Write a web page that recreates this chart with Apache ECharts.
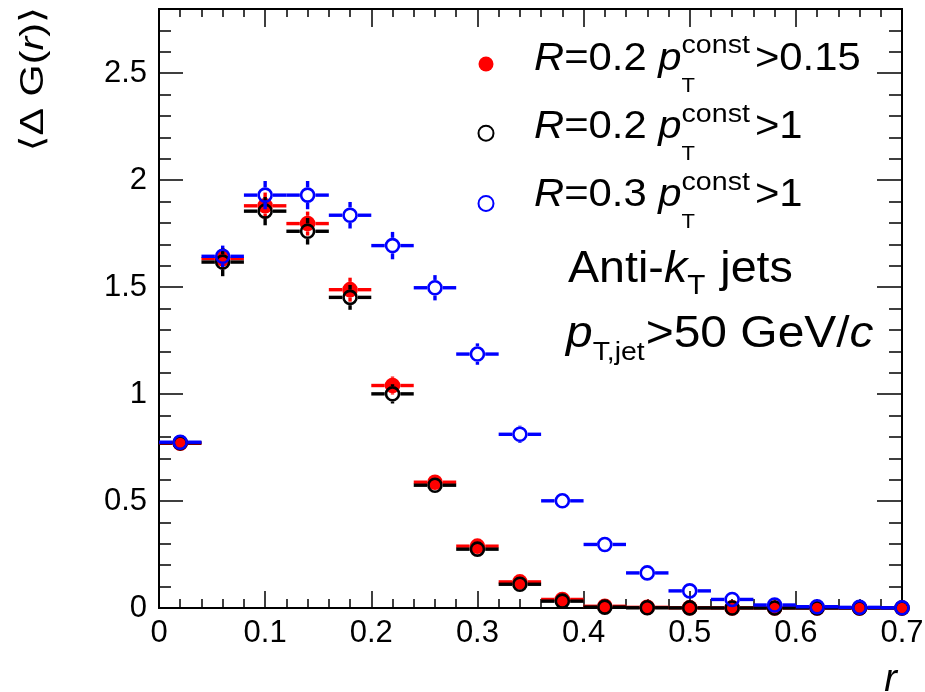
<!DOCTYPE html>
<html><head><meta charset="utf-8">
<script src="https://cdn.jsdelivr.net/npm/echarts@6/dist/echarts.min.js"></script>
<style>html,body{margin:0;padding:0;background:#fff}#main{width:925px;height:692px}</style>
</head><body><div id="main"></div>
<script>
// ---------------- data ----------------
const rCenters = [0.02,0.06,0.10,0.14,0.18,0.22,0.26,0.30,0.34,0.38,0.42,0.46,0.50,0.54,0.58,0.62,0.66,0.70];
const binHalfWidth = 0.02;
// R=0.2, pT const > 0.15 (red, filled)
const gR02pt015   = [0.770,1.633,1.880,1.797,1.488,1.040,0.588,0.289,0.122,0.040,0.008,0.003,0.001,0.0005,0.0003,0.0002,0.0001,0.0001];
const errR02pt015 = [0.030,0.050,0.062,0.056,0.056,0.042,0.030,0.020,0.012,0.006,0.003,0.002,0.001,0.001,0.001,0.001,0.001,0.001];
// R=0.2, pT const > 1 (black, open)
const gR02pt1     = [0.772,1.617,1.855,1.761,1.452,1.001,0.574,0.275,0.111,0.032,0.004,0.001,0.0005,0.0002,0.0001,0.0001,0.0001,0.0001];
const errR02pt1   = [0.035,0.066,0.066,0.062,0.058,0.045,0.032,0.022,0.014,0.008,0.004,0.002,0.001,0.001,0.001,0.001,0.001,0.001];
// R=0.3, pT const > 1 (blue, open)
const gR03pt1     = [0.775,1.644,1.930,1.930,1.836,1.694,1.497,1.187,0.812,0.501,0.297,0.164,0.080,0.040,0.014,0.006,0.003,0.001];
const errR03pt1   = [0.030,0.050,0.066,0.066,0.062,0.064,0.059,0.050,0.040,0.030,0.020,0.012,0.008,0.005,0.003,0.002,0.001,0.001];

const seriesNames = ['R=0.2 pT,const>0.15', 'R=0.2 pT,const>1', 'R=0.3 pT,const>1'];
const legendR   = ['0.2', '0.2', '0.3'];
const legendCut = ['0.15', '1', '1'];
const xTickLabels = ['0','0.1','0.2','0.3','0.4','0.5','0.6','0.7'];
const yTickLabels = ['0','0.5','1','1.5','2','2.5'];
const X_MIN = 0, X_MAX = 0.7, X_STEP = 0.1;
const Y_MIN = 0, Y_MAX = 2.8, Y_STEP = 0.5, Y_MINOR = 0.1;

// ---------------- style ----------------
const FONT = '"Liberation Sans", "DejaVu Sans", Arial, sans-serif';
const RED = '#ff0000', BLACK = '#000000', BLUE = '#0000ff';
const markerR = 7.8;

const chart = echarts.init(document.getElementById('main'), null, {renderer: 'canvas'});

function makeRender(color, filled) {
  return function (params, api) {
    const x = api.value(0), y = api.value(1), e = api.value(2);
    const c = api.coord([x, y]);
    const left = api.coord([Math.max(x - binHalfWidth, X_MIN), y])[0];
    const right = api.coord([Math.min(x + binHalfWidth, X_MAX), y])[0];
    const top = api.coord([x, Math.min(y + e, Y_MAX)])[1];
    const bot = api.coord([x, Math.max(y - e, Y_MIN)])[1];
    const ls = {stroke: color, lineWidth: 3.4, lineCap: 'butt'};
    const ch = [];
    const seg = (x1, y1, x2, y2) => ch.push({type: 'line', shape: {x1, y1, x2, y2}, style: ls, silent: true});
    if (c[0] - markerR > left) seg(left, c[1], c[0] - markerR, c[1]);
    if (right > c[0] + markerR) seg(c[0] + markerR, c[1], right, c[1]);
    if (c[1] - markerR > top) seg(c[0], top, c[0], c[1] - markerR);
    if (bot > c[1] + markerR) seg(c[0], c[1] + markerR, c[0], bot);
    if (filled) {
      ch.push({type: 'circle', shape: {cx: c[0], cy: c[1], r: markerR}, style: {fill: color}, silent: true});
    } else {
      ch.push({type: 'circle', shape: {cx: c[0], cy: c[1], r: markerR - 1.3}, style: {fill: 'none', stroke: color, lineWidth: 2.6}, silent: true});
    }
    return {type: 'group', children: ch};
  };
}
function rows(vals, errs) { return rCenters.map((r, i) => [r, vals[i], errs[i]]); }

// ---------------- text helpers ----------------
const mctx = document.createElement('canvas').getContext('2d');
function fontStr(size, italic) { return (italic ? 'italic ' : '') + size + 'px ' + FONT; }
function measure(t, size, italic) { mctx.font = fontStr(size, italic); return mctx.measureText(t).width; }
function txt(t, x, baseline, size, italic, sx) {
  return {type: 'text', x: x, y: baseline - 0.3465 * size, scaleX: sx, silent: true, z: 10,
    style: {text: t, font: fontStr(size, italic), fill: '#000', align: 'left', textAlign: 'left',
            verticalAlign: 'middle', textVerticalAlign: 'middle'}};
}
function run(x0, baseline, sx, parts) {
  let x = x0; const out = [];
  parts.forEach(p => {
    if (p.stack) {
      let w = 0;
      p.stack.forEach(s => {
        out.push(txt(s.t, x, baseline + (s.dy || 0), s.size, s.italic, sx));
        w = Math.max(w, measure(s.t, s.size, s.italic) * sx);
      });
      x += w + (p.gap || 0);
    } else {
      out.push(txt(p.t, x, baseline + (p.dy || 0), p.size, p.italic, sx));
      x += measure(p.t, p.size, p.italic) * sx + (p.gap || 0);
    }
  });
  return out;
}

const graphics = [];
// legend labels
const legBase0 = 72.3, legGap = 68.2;
for (let i = 0; i < 3; i++) {
  graphics.push(...run(534, legBase0 + i * legGap, 1.1, [
    {t: 'R', size: 38, italic: true},
    {t: '=' + legendR[i] + ' ', size: 38},
    {t: 'p', size: 38, italic: true},
    {stack: [{t: 'const', size: 26, dy: -17}, {t: 'T', size: 20, dy: 21}], gap: 5},
    {t: '>' + legendCut[i], size: 38}
  ]));
}
// jet definition text
graphics.push(...run(568, 285, 1.06, [
  {t: 'Anti-', size: 44},
  {t: 'k', size: 44, italic: true},
  {stack: [{t: 'T', size: 28, dy: 11}], gap: 2},
  {t: ' jets', size: 44}
]));
graphics.push(...run(566, 350, 1.09, [
  {t: 'p', size: 44, italic: true},
  {stack: [{t: 'T,jet', size: 26, dy: 12}], gap: 1},
  {t: '>50 GeV/', size: 44},
  {t: 'c', size: 44, italic: true}
]));
// y-axis title (rotated)
graphics.push({type: 'text', x: 34, y: 7, rotation: Math.PI / 2, scaleX: 1.25, silent: true,
  style: {text: '{n|⟨Δ G(}{i|r}{n|)⟩}', fill: '#000', font: fontStr(33, false),
    rich: {n: {font: fontStr(33, false), fill: '#000'}, i: {font: fontStr(33, true), fill: '#000'}},
    align: 'right', textAlign: 'right', verticalAlign: 'middle', textVerticalAlign: 'middle'}});
// x-axis title
graphics.push({type: 'text', x: 897, y: 694 - 0.3465 * 38, silent: true,
  style: {text: 'r', font: fontStr(38, true), fill: '#000', align: 'right', textAlign: 'right',
    verticalAlign: 'middle', textVerticalAlign: 'middle'}});

// ---------------- axes ----------------
const axisLineStyle = {color: '#000', width: 2};
const tickStyle = {color: '#000', width: 1.5};
const labelStyle = {fontSize: 31, fontFamily: FONT, color: '#000'};
function xAxisDef(pos, major, minor, labels) {
  return {type: 'value', position: pos, min: X_MIN, max: X_MAX, interval: X_STEP,
    axisLine: {show: true, onZero: false, lineStyle: axisLineStyle},
    axisTick: {show: true, inside: true, length: major, lineStyle: tickStyle},
    minorTick: {show: true, splitNumber: 5, length: minor, lineStyle: tickStyle},
    axisLabel: Object.assign({show: labels, margin: 10,
      formatter: v => xTickLabels[Math.round(v / X_STEP)] || ''}, labelStyle),
    splitLine: {show: false}, minorSplitLine: {show: false}};
}
function yAxisDef(pos, step, len, labels) {
  return {type: 'value', position: pos, min: Y_MIN, max: Y_MAX, interval: step,
    axisLine: {show: true, onZero: false, lineStyle: axisLineStyle},
    axisTick: {show: true, inside: true, length: len, lineStyle: tickStyle},
    axisLabel: Object.assign({show: !!labels, margin: 12, showMaxLabel: false,
      formatter: v => { const k = Math.round(v / Y_STEP); return Math.abs(k * Y_STEP - v) < 1e-6 ? (yTickLabels[k] || '') : ''; }}, labelStyle),
    splitLine: {show: false}};
}

const option = {
  backgroundColor: '#fff',
  animation: false,
  grid: {left: 159, top: 9, right: 23, bottom: 84, containLabel: false, outerBoundsMode: 'none'},
  xAxis: [xAxisDef('bottom', 17, 9, true), xAxisDef('top', 18, 8, false)],
  yAxis: [
    yAxisDef('left', Y_STEP, 24, true),
    yAxisDef('left', Y_MINOR, 12, false),
    yAxisDef('right', Y_STEP, 25, false),
    yAxisDef('right', Y_MINOR, 13, false)
  ],
  legend: {
    orient: 'vertical', left: 477.5, top: 56.5, padding: 0,
    itemWidth: 15, itemHeight: 15, itemGap: legGap - 15,
    formatter: () => '', textStyle: {fontSize: 10, lineHeight: 15}, selectedMode: false,
    data: [
      {name: seriesNames[0], icon: 'circle', itemStyle: {color: RED, borderWidth: 0}},
      {name: seriesNames[1], icon: 'circle', itemStyle: {color: 'rgba(0,0,0,0)', borderColor: BLACK, borderWidth: 2}},
      {name: seriesNames[2], icon: 'circle', itemStyle: {color: 'rgba(0,0,0,0)', borderColor: BLUE, borderWidth: 2}}
    ]
  },
  graphic: {elements: graphics},
  series: [
    {name: seriesNames[0], type: 'custom', xAxisIndex: 0, yAxisIndex: 0, clip: false,
     itemStyle: {color: RED}, renderItem: makeRender(RED, true), data: rows(gR02pt015, errR02pt015),
     encode: {x: 0, y: 1}, z: 3},
    {name: seriesNames[1], type: 'custom', xAxisIndex: 0, yAxisIndex: 0, clip: false,
     itemStyle: {color: BLACK}, renderItem: makeRender(BLACK, false), data: rows(gR02pt1, errR02pt1),
     encode: {x: 0, y: 1}, z: 4},
    {name: seriesNames[2], type: 'custom', xAxisIndex: 0, yAxisIndex: 0, clip: false,
     itemStyle: {color: BLUE}, renderItem: makeRender(BLUE, false), data: rows(gR03pt1, errR03pt1),
     encode: {x: 0, y: 1}, z: 5}
  ]
};
chart.setOption(option);
</script></body></html>
